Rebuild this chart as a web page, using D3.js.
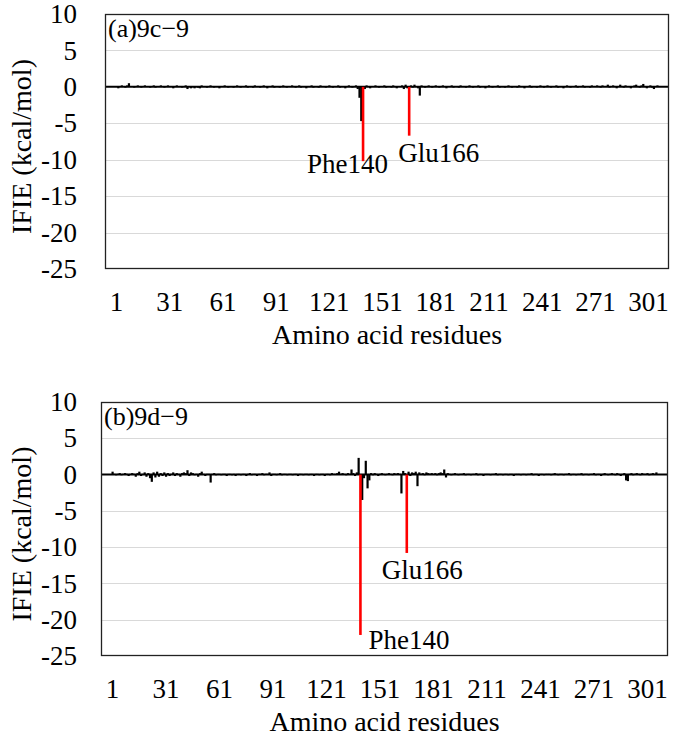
<!DOCTYPE html>
<html><head><meta charset="utf-8">
<script src="https://cdn.jsdelivr.net/npm/d3@7"></script>
<style>
body{margin:0;background:#fff}
svg text{font-family:"Liberation Serif","Times New Roman",Tinos,"DejaVu Serif","Noto Serif",serif !important;fill:#000}
</style>
</head><body>
<svg id="c" width="681" height="739"></svg>
<script>
// ---- data ----
const residues = d3.range(1, 307);
const xTickLabels = [1, 31, 61, 91, 121, 151, 181, 211, 241, 271, 301];
const yTicks = [10, 5, 0, -5, -10, -15, -20, -25];

// IFIE (kcal/mol) per residue 1..306, complex 9c-9
const ifie9c9 = [
 0.1,-0.2,0.1,0.2,0.1,-0.1,0.2,0.5,0.1,0.1,-0.1,0.1,0.2,0.1,-0.1,0.1,0.2,0.1,0.1,-0.1,
 0.1,0.2,-0.1,0.1,0.1,0.2,0.1,-0.1,0.1,0.2,0.1,0.1,-0.2,0.1,0.2,0.1,0.1,-0.1,0.1,0.2,
 -0.3,0.1,-0.2,0.1,-0.2,0.1,-0.1,-0.2,0.2,0.1,0.1,-0.1,0.1,0.2,0.1,-0.1,0.1,0.1,-0.2,0.1,
 0.1,0.2,0.1,-0.1,0.1,0.1,-0.1,0.1,0.2,0.1,-0.1,0.1,0.1,0.2,-0.1,0.1,0.1,-0.1,0.2,0.1,
 0.1,-0.1,0.1,0.2,0.1,-0.2,0.1,0.1,0.2,-0.1,0.1,0.1,-0.1,0.1,0.2,0.1,-0.1,0.1,0.1,0.2,
 0.1,-0.1,0.1,0.2,-0.1,0.1,0.1,-0.2,0.1,0.1,0.2,-0.1,0.1,0.1,-0.1,0.2,0.1,0.1,-0.1,0.1,
 0.2,0.1,-0.1,0.1,0.1,0.2,-0.1,0.1,0.1,-0.2,0.1,0.2,0.1,-0.1,0.1,0.2,-0.3,-1.5,-4.7,-10.2,
 -0.3,0.2,0.1,-0.2,0.1,0.1,0.2,0.1,-0.1,0.1,0.1,0.2,-0.1,0.1,0.1,-0.1,0.2,0.1,-0.2,0.1,
 0.1,0.2,-0.3,0.3,-0.2,-6.7,0.2,-0.1,0.3,0.1,-0.2,-1.2,0.2,0.1,-0.1,0.1,0.2,0.1,-0.1,0.1,
 0.2,0.1,-0.1,0.1,0.2,0.1,-0.2,0.1,0.1,0.2,-0.1,0.1,0.1,-0.1,0.2,0.1,0.1,-0.1,0.1,0.2,
 0.1,-0.1,0.1,0.1,0.2,-0.1,0.1,0.1,-0.2,0.1,0.2,0.1,-0.1,0.1,0.1,0.2,-0.1,0.1,0.1,-0.1,
 0.1,0.2,0.1,-0.1,0.1,0.1,-0.1,0.2,0.1,0.1,-0.2,0.1,0.1,0.2,-0.1,0.1,0.1,-0.1,0.1,0.2,
 0.1,-0.1,0.1,0.2,0.1,-0.1,0.1,0.1,0.2,-0.1,0.1,0.1,-0.2,0.1,0.2,0.1,-0.1,0.1,0.1,0.2,
 -0.1,0.1,0.1,0.2,-0.1,0.1,0.1,-0.1,0.2,0.1,0.1,0.2,0.1,-0.1,0.2,0.1,0.1,0.3,-0.1,0.1,
 0.2,0.1,-0.2,0.1,0.3,0.1,-0.1,0.2,0.1,0.1,-0.2,0.1,0.2,0.3,0.1,-0.1,0.2,0.4,0.1,-0.2,
 0.1,0.2,-0.1,-0.3,0.1,0.2
];

// IFIE (kcal/mol) per residue 1..306, complex 9d-9
const ifie9d9 = [
 0.4,0.1,-0.1,0.1,0.2,-0.1,0.1,0.2,0.1,-0.2,0.1,0.2,0.1,-0.3,0.2,0.4,-0.2,0.1,0.3,-0.3,
 0.2,-0.5,-1.0,0.3,-0.4,0.4,-0.3,0.2,-0.2,0.3,-0.3,0.2,-0.2,0.1,0.3,-0.2,0.2,0.1,-0.3,0.2,
 0.3,0.2,0.6,-0.2,0.3,0.2,-0.1,0.1,-0.3,0.2,0.4,0.1,-0.2,0.1,0.1,-1.1,0.1,0.2,-0.1,0.1,
 0.1,-0.1,0.1,0.1,-0.2,0.1,0.1,-0.1,0.1,-0.2,0.1,0.1,-0.1,0.1,0.1,-0.2,0.1,0.2,-0.1,0.1,
 0.1,-0.2,0.1,0.1,0.2,-0.1,0.1,0.1,0.3,-0.2,0.1,0.1,-0.1,0.1,0.2,-0.1,0.1,0.1,-0.1,0.1,
 0.1,-0.1,0.1,0.1,-0.2,0.1,0.1,-0.1,0.1,0.1,-0.1,0.1,0.1,-0.2,0.1,0.1,-0.1,0.1,0.1,-0.2,
 0.1,0.1,-0.1,0.2,0.1,0.1,0.2,0.4,0.1,0.2,0.1,-0.1,0.2,0.1,0.7,0.2,-0.2,0.3,2.3,-22.1,
 -3.5,-0.5,1.9,-1.9,-0.8,0.2,-0.1,0.2,0.1,-0.2,0.1,0.2,0.1,-0.1,0.1,0.2,0.1,-0.1,0.2,0.1,
 0.2,0.1,-2.6,0.5,0.2,-10.8,0.4,-0.2,0.3,0.2,0.4,-1.6,0.3,0.1,0.2,-0.1,0.3,0.2,0.1,0.2,
 0.1,0.2,-0.1,0.2,0.3,0.2,0.7,-0.4,0.2,0.1,-0.1,0.1,0.2,0.1,-0.1,0.1,0.1,0.2,-0.1,0.1,
 0.1,-0.1,0.1,0.1,0.2,-0.1,0.1,0.1,-0.2,0.1,0.1,0.1,-0.1,0.1,0.1,0.2,-0.1,0.1,0.1,-0.1,
 0.1,0.1,-0.1,0.1,0.1,-0.2,0.1,0.1,0.1,-0.1,0.1,0.1,-0.1,0.1,0.1,0.2,-0.1,0.1,0.1,-0.2,
 0.1,0.1,-0.1,0.1,0.1,0.1,-0.1,0.1,0.2,0.1,-0.1,0.1,0.1,-0.1,0.1,0.1,0.2,-0.1,0.1,0.1,
 -0.1,0.1,0.1,0.2,-0.1,0.1,0.1,-0.1,0.1,0.1,0.2,-0.1,0.1,0.1,-0.2,0.1,0.2,0.1,-0.1,0.1,
 0.2,0.1,-0.1,0.2,0.1,-0.2,0.1,0.2,-0.8,-0.9,0.1,0.2,-0.1,0.1,0.2,0.1,-0.1,0.2,0.1,0.1,
 0.2,-0.1,0.1,0.2,0.1,0.3
];

const highlightRes9c9 = [140, 166];
const highlightLab9c9 = ["Phe140", "Glu166"];
const highlightRes9d9 = [140, 166];
const highlightLab9d9 = ["Phe140", "Glu166"];

// ---- layout / style ----
const FONT_TICK = 27, FONT_TITLE = 28, FONT_ANN = 27, FONT_PANEL = 26;
const panels = [
  {title: "(a)9c\u22129", values: ifie9c9, hiRes: highlightRes9c9, hiLab: highlightLab9c9,
   box: {l: 105, r: 669, t: 14, b: 269},
   ann: [{dx: -56, dy: 12}, {dx: -11, dy: 26}]},
  {title: "(b)9d\u22129", values: ifie9d9, hiRes: highlightRes9d9, hiLab: highlightLab9d9,
   box: {l: 101, r: 668, t: 402, b: 656},
   ann: [{dx: 8, dy: 14}, {dx: -25, dy: 26}]}
];

const svg = d3.select("#c");

panels.forEach(p => {
  const B = p.box;
  const x = d3.scaleBand().domain(residues).range([B.l, B.r]).paddingInner(0).paddingOuter(6);
  const y = d3.scaleLinear().domain([-25, 10]).range([B.b, B.t]);
  const g = svg.append("g");
  const cx = r => x(r) + x.bandwidth() / 2;

  // gridlines
  g.selectAll("line.grid").data(yTicks.filter(v => v < 10 && v > -25 && v !== 0)).join("line")
    .attr("x1", B.l).attr("x2", B.r)
    .attr("y1", d => Math.round(y(d)) + 0.5).attr("y2", d => Math.round(y(d)) + 0.5)
    .attr("stroke", "#d9d9d9").attr("stroke-width", 1);

  const hi = new Set(p.hiRes);
  const rows = residues.map((r, i) => ({r, v: p.values[i]}));

  // zero axis line
  g.append("line").attr("x1", B.l).attr("x2", B.r)
    .attr("y1", y(0)).attr("y2", y(0)).attr("stroke", "#000").attr("stroke-width", 2);

  // black bars
  g.selectAll("rect.bar").data(rows.filter(d => !hi.has(d.r))).join("rect")
    .attr("x", d => cx(d.r) - 1.1).attr("width", 2.2)
    .attr("y", d => y(Math.max(0, d.v))).attr("height", d => Math.abs(y(d.v) - y(0)))
    .attr("fill", "#000");

  // red highlighted bars
  g.selectAll("rect.hi").data(rows.filter(d => hi.has(d.r))).join("rect")
    .attr("x", d => cx(d.r) - 1.3).attr("width", 2.6)
    .attr("y", d => y(Math.max(0, d.v))).attr("height", d => Math.abs(y(d.v) - y(0)))
    .attr("fill", "#ff0000");

  // frame
  g.append("rect").attr("x", B.l + 0.5).attr("y", B.t + 0.5)
    .attr("width", B.r - B.l - 1).attr("height", B.b - B.t - 1)
    .attr("fill", "none").attr("stroke", "#222").attr("stroke-width", 1.3);

  // y axis labels
  const ya = g.append("g").attr("transform", "translate(77,0)")
    .call(d3.axisLeft(y).tickValues(yTicks).tickSize(0).tickPadding(0).tickFormat(d => String(d)));
  ya.attr("font-family", null);
  ya.select(".domain").remove();
  ya.selectAll("text").style("font-size", FONT_TICK + "px");

  // x axis labels
  const xa = g.append("g").attr("transform", `translate(0,${B.b})`)
    .call(d3.axisBottom(x).tickValues(xTickLabels).tickSize(0).tickPadding(23));
  xa.attr("font-family", null);
  xa.select(".domain").remove();
  xa.selectAll("text").style("font-size", FONT_TICK + "px");

  // axis titles
  g.append("text").attr("x", (B.l + B.r) / 2).attr("y", B.b + 75)
    .attr("text-anchor", "middle").style("font-size", FONT_TITLE + "px")
    .text("Amino acid residues");
  g.append("text")
    .attr("transform", `translate(31,${(B.t + B.b) / 2 + 5}) rotate(-90)`)
    .attr("text-anchor", "middle").style("font-size", FONT_TITLE + "px")
    .text("IFIE (kcal/mol)");

  // panel title
  g.append("text").attr("x", B.l + 3).attr("y", B.t + 23)
    .style("font-size", FONT_PANEL + "px").text(p.title);

  // annotations
  p.hiRes.forEach((r, i) => {
    const v = p.values[r - 1];
    g.append("text").attr("x", cx(r) + p.ann[i].dx).attr("y", y(v) + p.ann[i].dy)
      .style("font-size", FONT_ANN + "px").text(p.hiLab[i]);
  });
});
</script>
</body></html>
